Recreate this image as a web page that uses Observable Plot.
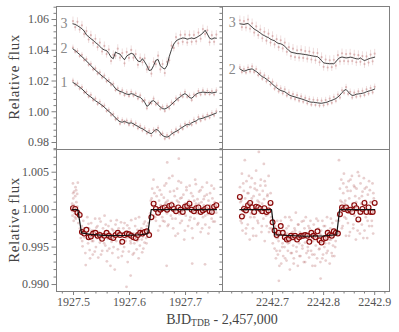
<!DOCTYPE html>
<html><head><meta charset="utf-8">
<script src="https://cdn.jsdelivr.net/npm/d3@7"></script>
<script src="https://cdn.jsdelivr.net/npm/@observablehq/plot@0.6"></script>
<style>
body{margin:0;background:#fff}
#fig{position:relative;width:399px;height:332px;font-family:"Liberation Serif","Times New Roman",serif;color:#555;overflow:hidden}
#fig svg{position:absolute;left:0;top:0;overflow:visible;background:transparent !important}
#fig svg text{font-family:"Liberation Serif","Times New Roman",serif}
.ylab{position:absolute;left:14px;transform:translate(-50%,-50%) rotate(-90deg);font-size:15px;letter-spacing:0.6px;white-space:nowrap;color:#444}
.xlab{position:absolute;left:222px;top:312px;transform:translateX(-50%);font-size:14px;white-space:nowrap;color:#444}
.xlab sub{font-size:9.5px;vertical-align:-2px}
</style></head><body><div id="fig"></div>
<script>
const tL = [1927.499,1927.503,1927.507,1927.511,1927.515,1927.519,1927.523,1927.527,1927.531,1927.535,1927.539,1927.543,1927.547,1927.551,1927.555,1927.559,1927.563,1927.567,1927.571,1927.575,1927.579,1927.583,1927.587,1927.591,1927.595,1927.599,1927.603,1927.607,1927.611,1927.615,1927.619,1927.623,1927.627,1927.631,1927.635,1927.639,1927.643,1927.647,1927.651,1927.655,1927.659,1927.663,1927.667,1927.671,1927.675,1927.679,1927.683,1927.687,1927.691,1927.695,1927.699,1927.703,1927.707,1927.711,1927.715,1927.719,1927.723,1927.727,1927.731,1927.735,1927.739,1927.743,1927.747,1927.751,1927.755];
const tR = [2242.636,2242.640,2242.644,2242.648,2242.652,2242.656,2242.660,2242.664,2242.668,2242.672,2242.676,2242.680,2242.684,2242.688,2242.692,2242.696,2242.700,2242.704,2242.708,2242.712,2242.716,2242.720,2242.724,2242.728,2242.732,2242.736,2242.740,2242.744,2242.748,2242.752,2242.756,2242.760,2242.764,2242.768,2242.772,2242.776,2242.780,2242.784,2242.788,2242.792,2242.796,2242.800,2242.804,2242.808,2242.812,2242.816,2242.820,2242.824,2242.828,2242.832,2242.836,2242.840,2242.844,2242.848,2242.852,2242.856,2242.860,2242.864,2242.868,2242.872,2242.876,2242.880,2242.884,2242.888,2242.892,2242.896,2242.900];
const lineL1 = [1.0190,1.0182,1.0170,1.0160,1.0148,1.0134,1.0118,1.0106,1.0096,1.0084,1.0072,1.0062,1.0052,1.0042,1.0030,1.0015,1.0002,0.9990,0.9975,0.9960,0.9945,0.9935,0.9932,0.9938,0.9930,0.9925,0.9928,0.9922,0.9912,0.9905,0.9895,0.9890,0.9880,0.9870,0.9862,0.9858,0.9870,0.9885,0.9880,0.9862,0.9845,0.9838,0.9835,0.9842,0.9855,0.9865,0.9872,0.9880,0.9892,0.9900,0.9910,0.9918,0.9915,0.9928,0.9935,0.9940,0.9952,0.9955,0.9958,0.9965,0.9968,0.9975,0.9980,0.9986,0.9992];
const rawL1 = [1.0202,1.0175,1.0184,1.0150,1.0160,1.0125,1.0130,1.0098,1.0110,1.0075,1.0085,1.0050,1.0065,1.0035,1.0040,1.0005,1.0012,0.9978,0.9985,0.9950,0.9958,0.9922,0.9945,0.9928,0.9942,0.9915,0.9938,0.9910,0.9925,0.9892,0.9908,0.9878,0.9893,0.9860,0.9875,0.9845,0.9882,0.9872,0.9895,0.9850,0.9858,0.9825,0.9848,0.9830,0.9868,0.9852,0.9885,0.9868,0.9905,0.9888,0.9922,0.9905,0.9928,0.9915,0.9948,0.9928,0.9965,0.9942,0.9970,0.9952,0.9980,0.9962,0.9992,0.9975,1.0003];
const lineL2 = [1.0409,1.0398,1.0385,1.0372,1.0358,1.0345,1.0330,1.0315,1.0300,1.0285,1.0270,1.0258,1.0245,1.0232,1.0222,1.0208,1.0195,1.0185,1.0170,1.0150,1.0140,1.0132,1.0128,1.0120,1.0115,1.0112,1.0118,1.0114,1.0105,1.0098,1.0094,1.0080,1.0062,1.0035,1.0045,1.0068,1.0072,1.0060,1.0045,1.0030,1.0020,1.0018,1.0025,1.0035,1.0048,1.0062,1.0075,1.0088,1.0098,1.0110,1.0118,1.0108,1.0092,1.0088,1.0100,1.0115,1.0122,1.0125,1.0128,1.0126,1.0124,1.0126,1.0122,1.0125,1.0128];
const rawL2 = [1.0418,1.0390,1.0395,1.0362,1.0370,1.0335,1.0342,1.0305,1.0312,1.0275,1.0282,1.0248,1.0256,1.0222,1.0235,1.0198,1.0206,1.0175,1.0182,1.0140,1.0152,1.0120,1.0140,1.0108,1.0128,1.0102,1.0130,1.0104,1.0118,1.0086,1.0106,1.0068,1.0075,1.0022,1.0058,1.0055,1.0085,1.0048,1.0058,1.0018,1.0032,1.0005,1.0038,1.0022,1.0060,1.0050,1.0088,1.0075,1.0110,1.0098,1.0130,1.0096,1.0105,1.0075,1.0112,1.0102,1.0135,1.0112,1.0140,1.0115,1.0136,1.0114,1.0134,1.0112,1.0140];
const lineL3 = [1.0572,1.0568,1.0560,1.0550,1.0540,1.0525,1.0500,1.0488,1.0475,1.0465,1.0450,1.0440,1.0425,1.0410,1.0402,1.0398,1.0380,1.0355,1.0345,1.0388,1.0380,1.0375,1.0355,1.0338,1.0362,1.0372,1.0380,1.0375,1.0350,1.0330,1.0325,1.0345,1.0325,1.0300,1.0268,1.0272,1.0300,1.0335,1.0340,1.0300,1.0285,1.0278,1.0300,1.0360,1.0405,1.0440,1.0460,1.0470,1.0475,1.0480,1.0478,1.0472,1.0476,1.0480,1.0475,1.0482,1.0490,1.0500,1.0512,1.0530,1.0505,1.0478,1.0472,1.0480,1.0478];
const rawL3 = [1.0590,1.0550,1.0585,1.0535,1.0562,1.0505,1.0525,1.0470,1.0498,1.0448,1.0475,1.0420,1.0450,1.0392,1.0428,1.0375,1.0405,1.0330,1.0370,1.0365,1.0410,1.0352,1.0382,1.0315,1.0388,1.0350,1.0402,1.0352,1.0375,1.0305,1.0350,1.0322,1.0348,1.0275,1.0290,1.0248,1.0325,1.0310,1.0365,1.0275,1.0310,1.0252,1.0325,1.0335,1.0430,1.0415,1.0485,1.0445,1.0500,1.0455,1.0502,1.0450,1.0500,1.0455,1.0500,1.0458,1.0515,1.0475,1.0538,1.0505,1.0530,1.0452,1.0498,1.0455,1.0502];
const errL = [0.0016, 0.0016, 0.0026];
const lineR2 = [1.0279,1.0270,1.0264,1.0268,1.0274,1.0276,1.0279,1.0270,1.0262,1.0252,1.0238,1.0228,1.0222,1.0212,1.0202,1.0192,1.0180,1.0166,1.0156,1.0146,1.0138,1.0134,1.0130,1.0120,1.0110,1.0104,1.0100,1.0096,1.0092,1.0088,1.0084,1.0080,1.0075,1.0070,1.0065,1.0062,1.0062,1.0060,1.0058,1.0056,1.0055,1.0058,1.0060,1.0064,1.0070,1.0074,1.0080,1.0086,1.0096,1.0108,1.0125,1.0138,1.0145,1.0130,1.0115,1.0106,1.0108,1.0114,1.0116,1.0118,1.0120,1.0124,1.0130,1.0134,1.0138,1.0142,1.0148];
const rawR2 = [1.0290,1.0258,1.0278,1.0255,1.0288,1.0262,1.0295,1.0258,1.0278,1.0238,1.0252,1.0215,1.0236,1.0198,1.0218,1.0178,1.0195,1.0150,1.0170,1.0132,1.0152,1.0120,1.0146,1.0105,1.0125,1.0090,1.0115,1.0082,1.0108,1.0072,1.0100,1.0065,1.0090,1.0055,1.0082,1.0046,1.0078,1.0044,1.0075,1.0040,1.0072,1.0042,1.0076,1.0050,1.0086,1.0058,1.0096,1.0070,1.0112,1.0092,1.0140,1.0122,1.0160,1.0115,1.0130,1.0092,1.0124,1.0098,1.0132,1.0102,1.0136,1.0108,1.0146,1.0118,1.0154,1.0126,1.0162];
const lineR3 = [1.0572,1.0570,1.0568,1.0572,1.0574,1.0562,1.0550,1.0538,1.0530,1.0522,1.0512,1.0502,1.0495,1.0488,1.0482,1.0472,1.0466,1.0462,1.0450,1.0444,1.0442,1.0436,1.0425,1.0412,1.0398,1.0388,1.0384,1.0382,1.0378,1.0378,1.0376,1.0374,1.0372,1.0370,1.0367,1.0365,1.0362,1.0360,1.0358,1.0348,1.0332,1.0318,1.0315,1.0314,1.0312,1.0313,1.0312,1.0325,1.0342,1.0352,1.0356,1.0353,1.0350,1.0352,1.0355,1.0353,1.0348,1.0345,1.0343,1.0350,1.0340,1.0333,1.0338,1.0344,1.0348,1.0352,1.0355];
const rawR3 = [1.0595,1.0550,1.0590,1.0548,1.0600,1.0540,1.0575,1.0515,1.0555,1.0498,1.0535,1.0478,1.0520,1.0462,1.0508,1.0450,1.0492,1.0438,1.0472,1.0420,1.0465,1.0412,1.0450,1.0390,1.0420,1.0362,1.0410,1.0355,1.0400,1.0352,1.0402,1.0350,1.0395,1.0345,1.0392,1.0340,1.0385,1.0335,1.0382,1.0322,1.0355,1.0292,1.0340,1.0288,1.0335,1.0290,1.0338,1.0300,1.0368,1.0328,1.0380,1.0330,1.0375,1.0328,1.0378,1.0330,1.0372,1.0322,1.0368,1.0325,1.0362,1.0310,1.0360,1.0320,1.0372,1.0328,1.0378];
const errR = [0.0018, 0.0028];
const labelsL = ["1", "2", "3"], labelXL = [1927.483, 1927.483, 1927.483], labelYL = [1.0190, 1.0411, 1.0572];
const labelsR = ["2", "3"], labelXR = [2242.621, 2242.621], labelYR = [1.0273, 1.0582];
const binsL = [1.0002,1.0001,0.9996,0.9993,0.9970,0.9968,0.9973,0.9963,0.9964,0.9968,0.9969,0.9965,0.9966,0.9961,0.9965,0.9969,0.9965,0.9963,0.9962,0.9966,0.9969,0.9966,0.9957,0.9966,0.9968,0.9967,0.9965,0.9963,0.9962,0.9966,0.9969,0.9968,0.9970,0.9971,0.9966,0.9990,1.0008,1.0001,0.9996,1.0000,1.0002,1.0003,1.0000,1.0005,1.0006,1.0001,0.9998,1.0003,1.0000,0.9997,1.0004,1.0005,1.0008,1.0000,0.9998,1.0002,1.0003,0.9997,0.9999,1.0001,1.0003,0.9998,0.9997,1.0004,1.0006];
const binsR = [1.0017,0.9991,1.0001,0.9999,1.0006,1.0009,1.0003,0.9997,1.0004,1.0003,1.0001,0.9998,1.0002,0.9997,0.9999,1.0009,0.9983,0.9972,0.9966,0.9969,0.9978,0.9969,0.9963,0.9960,0.9961,0.9965,0.9963,0.9965,0.9960,0.9963,0.9965,0.9965,0.9966,0.9965,0.9957,0.9969,0.9965,0.9963,0.9971,0.9959,0.9956,0.9961,0.9962,0.9969,0.9966,0.9965,0.9971,0.9969,0.9968,0.9994,1.0003,1.0001,1.0003,0.9999,1.0000,0.9997,1.0006,1.0002,0.9987,0.9997,1.0001,1.0009,0.9997,1.0003,0.9997,0.9997,1.0009];
const modelLt = [1927.4976, 1927.5077, 1927.5142, 1927.530, 1927.560, 1927.590, 1927.620, 1927.6326, 1927.6387, 1927.7553];
const modelLf = [1.0000, 1.0000, 0.99690, 0.99670, 0.99652, 0.99655, 0.99665, 0.99680, 1.0000, 1.0000];
const modelRt = [2242.636, 2242.698, 2242.704, 2242.730, 2242.765, 2242.800, 2242.8255, 2242.8314, 2242.900];
const modelRf = [1.0000, 1.0000, 0.99665, 0.99655, 0.99645, 0.99650, 0.99665, 1.0000, 1.0000];
const scatterL = [[1927.4975,1.0008],[1927.4982,0.9992],[1927.4990,1.0035],[1927.4996,1.0015],[1927.5003,0.9985],[1927.5010,1.0024],[1927.5016,1.0003],[1927.5022,0.9995],[1927.5030,1.0018],[1927.5036,1.0030],[1927.5042,0.9988],[1927.5050,1.0010],[1927.5058,0.9998],[1927.5065,1.0021],[1927.5072,0.9994],[1927.5077,1.0036],[1927.4979,0.9998],[1927.4993,1.0022],[1927.5006,1.0006],[1927.5026,0.9990],[1927.5046,1.0026],[1927.5068,1.0004],[1927.5085,0.9982],[1927.5100,0.9992],[1927.5115,0.9975],[1927.5130,0.9962],[1927.5148,0.9978],[1927.5162,0.9951],[1927.5175,0.9985],[1927.5190,0.9963],[1927.5205,0.9972],[1927.5218,0.9926],[1927.5232,0.9968],[1927.5246,0.9990],[1927.5260,0.9955],[1927.5275,0.9975],[1927.5288,0.9946],[1927.5302,0.9968],[1927.5316,0.9982],[1927.5330,0.9958],[1927.5344,0.9940],[1927.5358,0.9972],[1927.5372,0.9965],[1927.5386,0.9988],[1927.5400,0.9950],[1927.5414,0.9962],[1927.5428,0.9978],[1927.5442,0.9936],[1927.5456,0.9970],[1927.5470,0.9956],[1927.5484,0.9984],[1927.5498,0.9962],[1927.5512,0.9945],[1927.5526,0.9975],[1927.5540,0.9966],[1927.5554,0.9992],[1927.5568,0.9952],[1927.5582,0.9970],[1927.5596,0.9931],[1927.5610,0.9961],[1927.5624,0.9978],[1927.5638,0.9948],[1927.5652,0.9968],[1927.5666,0.9985],[1927.5680,0.9957],[1927.5694,0.9942],[1927.5708,0.9972],[1927.5722,0.9962],[1927.5736,0.9920],[1927.5750,0.9980],[1927.5764,0.9958],[1927.5778,0.9969],[1927.5792,0.9947],[1927.5806,0.9975],[1927.5820,0.9964],[1927.5834,0.9954],[1927.5848,0.9983],[1927.5862,0.9938],[1927.5876,0.9966],[1927.5890,0.9975],[1927.5904,0.9950],[1927.5918,0.9970],[1927.5932,0.9958],[1927.5946,0.9897],[1927.5960,0.9979],[1927.5974,0.9963],[1927.5988,0.9944],[1927.6002,0.9970],[1927.6016,0.9958],[1927.6020,0.9912],[1927.6030,0.9986],[1927.6044,0.9962],[1927.6058,0.9940],[1927.6072,0.9968],[1927.6086,0.9955],[1927.6100,0.9978],[1927.6114,0.9962],[1927.6128,0.9947],[1927.6142,0.9973],[1927.6156,0.9960],[1927.6170,0.9990],[1927.6184,0.9952],[1927.6198,0.9969],[1927.6212,0.9975],[1927.6226,0.9943],[1927.6240,0.9964],[1927.6254,0.9981],[1927.6268,0.9956],[1927.6282,0.9970],[1927.6296,0.9962],[1927.6310,0.9978],[1927.5155,0.9958],[1927.5183,0.9975],[1927.5211,0.9942],[1927.5239,0.9962],[1927.5267,0.9981],[1927.5295,0.9935],[1927.5323,0.9972],[1927.5351,0.9958],[1927.5379,0.9944],[1927.5407,0.9976],[1927.5435,0.9962],[1927.5463,0.9988],[1927.5491,0.9940],[1927.5519,0.9966],[1927.5547,0.9955],[1927.5575,0.9980],[1927.5603,0.9945],[1927.5631,0.9968],[1927.5659,0.9925],[1927.5687,0.9974],[1927.5715,0.9950],[1927.5743,0.9963],[1927.5771,0.9986],[1927.5799,0.9936],[1927.5827,0.9970],[1927.5855,0.9958],[1927.5883,0.9944],[1927.5911,0.9982],[1927.5939,0.9962],[1927.5967,0.9930],[1927.5995,0.9975],[1927.6023,0.9955],[1927.6051,0.9968],[1927.6079,0.9942],[1927.6107,0.9988],[1927.6135,0.9958],[1927.6163,0.9935],[1927.6191,0.9972],[1927.6219,0.9960],[1927.6247,0.9948],[1927.6275,0.9984],[1927.6303,0.9955],[1927.6335,0.9982],[1927.6350,0.9970],[1927.6368,0.9995],[1927.6380,1.0012],[1927.6395,1.0015],[1927.6405,1.0028],[1927.6418,1.0005],[1927.6430,0.9992],[1927.6444,1.0022],[1927.6458,1.0010],[1927.6472,0.9985],[1927.6486,1.0003],[1927.6500,1.0030],[1927.6514,0.9996],[1927.6528,1.0012],[1927.6542,0.9978],[1927.6556,1.0006],[1927.6570,1.0020],[1927.6584,0.9990],[1927.6598,1.0002],[1927.6612,1.0016],[1927.6626,0.9984],[1927.6640,1.0008],[1927.6654,1.0035],[1927.6663,0.9925],[1927.6668,0.9995],[1927.6673,1.0063],[1927.6682,1.0012],[1927.6696,0.9980],[1927.6710,1.0004],[1927.6724,1.0024],[1927.6738,0.9992],[1927.6752,1.0010],[1927.6766,1.0045],[1927.6780,0.9975],[1927.6794,1.0006],[1927.6808,1.0018],[1927.6822,0.9988],[1927.6836,1.0002],[1927.6850,1.0028],[1927.6864,0.9968],[1927.6878,1.0010],[1927.6880,1.0068],[1927.6892,0.9994],[1927.6906,1.0015],[1927.6920,1.0036],[1927.6934,0.9985],[1927.6948,1.0003],[1927.6962,1.0020],[1927.6976,0.9960],[1927.6990,1.0008],[1927.7004,0.9992],[1927.7018,1.0026],[1927.7032,1.0004],[1927.7046,0.9978],[1927.7060,1.0012],[1927.7074,1.0032],[1927.7088,0.9990],[1927.7102,1.0006],[1927.7116,0.9975],[1927.7119,0.9928],[1927.7130,1.0018],[1927.7144,1.0000],[1927.7158,0.9988],[1927.7172,1.0040],[1927.7186,1.0008],[1927.7200,0.9995],[1927.7214,1.0014],[1927.7228,0.9982],[1927.7242,1.0024],[1927.7256,1.0002],[1927.7270,0.9970],[1927.7284,1.0010],[1927.7298,1.0030],[1927.7312,0.9990],[1927.7326,1.0006],[1927.7340,1.0018],[1927.7348,0.9927],[1927.7354,0.9980],[1927.7368,1.0000],[1927.7382,1.0036],[1927.7396,0.9994],[1927.7410,1.0012],[1927.7424,0.9976],[1927.7438,1.0022],[1927.7452,1.0004],[1927.7466,0.9988],[1927.7480,1.0015],[1927.7494,1.0000],[1927.7508,1.0028],[1927.7522,0.9984],[1927.7536,1.0008],[1927.6400,1.0008],[1927.6428,1.0040],[1927.6456,0.9990],[1927.6484,1.0018],[1927.6512,0.9972],[1927.6540,1.0026],[1927.6568,1.0002],[1927.6596,0.9985],[1927.6624,1.0032],[1927.6652,1.0010],[1927.6680,0.9978],[1927.6708,1.0042],[1927.6736,1.0006],[1927.6764,0.9988],[1927.6792,1.0025],[1927.6820,0.9965],[1927.6848,1.0012],[1927.6876,1.0038],[1927.6904,0.9982],[1927.6932,1.0016],[1927.6960,1.0004],[1927.6988,0.9972],[1927.7016,1.0030],[1927.7044,1.0008],[1927.7072,0.9986],[1927.7100,1.0022],[1927.7128,0.9962],[1927.7156,1.0012],[1927.7184,1.0034],[1927.7212,0.9980],[1927.7240,1.0008],[1927.7268,1.0026],[1927.7296,0.9975],[1927.7324,1.0014],[1927.7352,0.9992],[1927.7380,1.0020],[1927.7408,0.9968],[1927.7436,1.0006],[1927.7464,1.0032],[1927.7492,0.9984],[1927.7520,1.0010],[1927.7548,0.9996]];
const scatterR = [[2242.6362,1.0030],[2242.6375,0.9985],[2242.6388,1.0012],[2242.6400,1.0048],[2242.6413,0.9972],[2242.6426,1.0005],[2242.6438,1.0025],[2242.6451,0.9992],[2242.6457,1.0066],[2242.6464,1.0015],[2242.6477,0.9968],[2242.6490,1.0038],[2242.6502,1.0002],[2242.6515,0.9980],[2242.6528,1.0022],[2242.6540,1.0008],[2242.6553,0.9960],[2242.6566,1.0030],[2242.6578,0.9995],[2242.6591,1.0042],[2242.6604,1.0010],[2242.6616,0.9975],[2242.6629,1.0018],[2242.6642,0.9990],[2242.6655,1.0035],[2242.6668,1.0004],[2242.6680,0.9965],[2242.6693,1.0026],[2242.6706,1.0012],[2242.6718,0.9982],[2242.6731,1.0077],[2242.6744,1.0020],[2242.6757,0.9996],[2242.6770,1.0040],[2242.6783,0.9970],[2242.6796,1.0008],[2242.6808,1.0025],[2242.6821,0.9988],[2242.6830,1.0061],[2242.6834,1.0014],[2242.6847,0.9958],[2242.6860,1.0032],[2242.6872,1.0000],[2242.6885,0.9978],[2242.6898,1.0018],[2242.6910,0.9994],[2242.6923,1.0045],[2242.6936,1.0006],[2242.6949,0.9975],[2242.6962,1.0022],[2242.6974,0.9990],[2242.6370,1.0010],[2242.6398,0.9982],[2242.6426,1.0035],[2242.6454,1.0002],[2242.6482,0.9975],[2242.6510,1.0022],[2242.6538,1.0045],[2242.6566,0.9990],[2242.6594,1.0015],[2242.6622,0.9965],[2242.6650,1.0028],[2242.6678,1.0052],[2242.6706,0.9985],[2242.6734,1.0010],[2242.6762,1.0032],[2242.6790,0.9978],[2242.6818,1.0004],[2242.6846,1.0038],[2242.6874,0.9992],[2242.6902,1.0020],[2242.6930,0.9970],[2242.6958,1.0008],[2242.6990,0.9975],[2242.7005,0.9955],[2242.7018,0.9985],[2242.7040,0.9948],[2242.7053,0.9970],[2242.7066,0.9935],[2242.7079,0.9962],[2242.7092,0.9985],[2242.7105,0.9940],[2242.7118,0.9958],[2242.7124,0.9905],[2242.7131,0.9975],[2242.7144,0.9945],[2242.7157,0.9968],[2242.7170,0.9928],[2242.7183,0.9980],[2242.7196,0.9955],[2242.7209,0.9938],[2242.7222,0.9972],[2242.7235,0.9950],[2242.7248,0.9990],[2242.7261,0.9960],[2242.7274,0.9932],[2242.7287,0.9968],[2242.7300,0.9945],[2242.7313,0.9978],[2242.7326,0.9956],[2242.7339,0.9920],[2242.7352,0.9964],[2242.7365,0.9986],[2242.7378,0.9942],[2242.7391,0.9970],[2242.7404,0.9952],[2242.7417,0.9935],[2242.7430,0.9975],[2242.7443,0.9960],[2242.7456,0.9996],[2242.7469,0.9944],[2242.7482,0.9966],[2242.7495,0.9925],[2242.7508,0.9980],[2242.7521,0.9955],[2242.7534,0.9970],[2242.7547,0.9938],[2242.7560,0.9962],[2242.7573,0.9984],[2242.7586,0.9948],[2242.7599,0.9968],[2242.7612,0.9930],[2242.7625,0.9975],[2242.7638,0.9956],[2242.7651,0.9990],[2242.7664,0.9942],[2242.7677,0.9965],[2242.7690,0.9950],[2242.7703,0.9978],[2242.7716,0.9936],[2242.7729,0.9960],[2242.7742,0.9985],[2242.7755,0.9945],[2242.7768,0.9970],[2242.7781,0.9925],[2242.7794,0.9958],[2242.7807,0.9980],[2242.7820,0.9940],[2242.7833,0.9966],[2242.7846,0.9952],[2242.7859,0.9988],[2242.7872,0.9935],[2242.7885,0.9962],[2242.7898,0.9975],[2242.7911,0.9947],[2242.7924,0.9968],[2242.7937,0.9930],[2242.7941,0.9908],[2242.7950,0.9972],[2242.7963,0.9955],[2242.7976,0.9985],[2242.7989,0.9940],[2242.8002,0.9963],[2242.8015,0.9950],[2242.8028,0.9978],[2242.8041,0.9932],[2242.8054,0.9966],[2242.8067,0.9990],[2242.8080,0.9945],[2242.8093,0.9970],[2242.8106,0.9955],[2242.8119,0.9928],[2242.8132,0.9975],[2242.8145,0.9960],[2242.8158,0.9942],[2242.8171,0.9982],[2242.8184,0.9952],[2242.8197,0.9968],[2242.8210,0.9938],[2242.8223,0.9972],[2242.8236,0.9958],[2242.8249,0.9985],[2242.7050,0.9978],[2242.7078,0.9945],[2242.7106,0.9962],[2242.7134,0.9925],[2242.7162,0.9985],[2242.7190,0.9950],[2242.7218,0.9968],[2242.7246,0.9935],[2242.7274,0.9975],[2242.7302,0.9955],[2242.7330,0.9990],[2242.7358,0.9942],[2242.7386,0.9962],[2242.7414,0.9928],[2242.7442,0.9972],[2242.7470,0.9950],[2242.7498,0.9980],[2242.7526,0.9938],[2242.7554,0.9965],[2242.7582,0.9952],[2242.7610,0.9985],[2242.7638,0.9930],[2242.7666,0.9968],[2242.7694,0.9945],[2242.7722,0.9975],[2242.7750,0.9958],[2242.7778,0.9940],[2242.7806,0.9970],[2242.7834,0.9925],[2242.7862,0.9962],[2242.7890,0.9985],[2242.7918,0.9948],[2242.7946,0.9966],[2242.7974,0.9935],[2242.8002,0.9978],[2242.8030,0.9955],[2242.8058,0.9942],[2242.8086,0.9972],[2242.8114,0.9960],[2242.8142,0.9988],[2242.8170,0.9938],[2242.8198,0.9965],[2242.8226,0.9950],[2242.8265,0.9970],[2242.8280,0.9992],[2242.8300,0.9985],[2242.8301,1.0066],[2242.8320,1.0028],[2242.8333,0.9995],[2242.8346,1.0040],[2242.8359,1.0010],[2242.8372,0.9978],[2242.8385,1.0022],[2242.8398,1.0048],[2242.8411,0.9990],[2242.8424,1.0012],[2242.8437,0.9965],[2242.8450,1.0030],[2242.8463,1.0005],[2242.8476,0.9982],[2242.8489,1.0038],[2242.8502,1.0015],[2242.8515,0.9970],[2242.8528,1.0025],[2242.8541,0.9998],[2242.8554,1.0045],[2242.8567,1.0008],[2242.8580,0.9975],[2242.8593,1.0032],[2242.8606,0.9992],[2242.8619,1.0018],[2242.8632,0.9960],[2242.8645,1.0028],[2242.8658,1.0002],[2242.8671,1.0050],[2242.8684,0.9985],[2242.8697,1.0015],[2242.8710,0.9968],[2242.8723,1.0035],[2242.8736,1.0008],[2242.8749,0.9980],[2242.8762,1.0024],[2242.8775,0.9995],[2242.8788,1.0042],[2242.8801,0.9972],[2242.8814,1.0012],[2242.8827,0.9990],[2242.8840,1.0030],[2242.8853,0.9962],[2242.8866,1.0020],[2242.8879,1.0000],[2242.8892,0.9978],[2242.8905,1.0026],[2242.8918,0.9995],[2242.8931,1.0010],[2242.8944,0.9985],[2242.8957,1.0035],[2242.8970,0.9968],[2242.8983,1.0015],[2242.8996,0.9998],[2242.8330,1.0012],[2242.8358,0.9975],[2242.8386,1.0035],[2242.8414,1.0008],[2242.8442,0.9988],[2242.8470,1.0025],[2242.8498,0.9965],[2242.8526,1.0040],[2242.8554,1.0002],[2242.8582,0.9980],[2242.8610,1.0030],[2242.8638,1.0010],[2242.8666,0.9972],[2242.8694,1.0045],[2242.8722,0.9995],[2242.8750,1.0018],[2242.8778,0.9962],[2242.8806,1.0028],[2242.8834,1.0004],[2242.8862,0.9985],[2242.8890,1.0038],[2242.8918,1.0010],[2242.8946,0.9978],[2242.8974,1.0022]];
const yTopMajor = [0.98, 1.00, 1.02, 1.04, 1.06];
const yTopMinor = [0.976,0.984,0.988,0.992,0.996,1.004,1.008,1.012,1.016,1.024,1.028,1.032,1.036,1.044,1.048,1.052,1.056,1.064,1.068];
const yBotMajor = [0.990, 0.995, 1.000, 1.005];
const yBotMinor = [0.991,0.992,0.993,0.994,0.996,0.997,0.998,0.999,1.001,1.002,1.003,1.004,1.006,1.007,1.008];
const xMajorL = [1927.5, 1927.6, 1927.7];
const xMinorL = [1927.48,1927.52,1927.54,1927.56,1927.58,1927.62,1927.64,1927.66,1927.68,1927.72,1927.74,1927.76];
const xMajorR = [2242.7, 2242.8, 2242.9];
const xMinorR = [2242.62,2242.64,2242.66,2242.68,2242.72,2242.74,2242.76,2242.78,2242.82,2242.84,2242.86,2242.88,2242.92];

const X0 = 56, XM = 222, X1 = 389, Y0 = 6, YM = 149, Y1 = 291;
const xDomL = [1927.4696, 1927.766], xDomR = [2242.602, 2242.929];
const yDomTop = [0.97545, 1.06846], yDomBot = [0.98907, 1.00803];
const AX = "#808080", TXT = "#555", PINK = "#b86a6a", DARK = "#8b0a0a";
const FONT = "Liberation Serif, Times New Roman, serif";
const none = () => "";
function rows(t, line, raw, c, err) { return t.map((x, i) => ({t: x, f: line[i], r: raw[i], c, e: err})); }
function panel(box, xd, yd, marks) {
  return Plot.plot({
    width: 399, height: 332,
    marginLeft: box[0], marginRight: 399 - box[1], marginTop: box[2], marginBottom: 332 - box[3],
    x: {domain: xd, axis: null}, y: {domain: yd, axis: null},
    style: {fontFamily: FONT, fontSize: "12px", color: TXT, background: "transparent"},
    marks
  });
}
function yAxes(major, minor, labels, fmt) {
  return [
    Plot.axisY(major, {anchor: "left", tickSize: labels ? 4.5 : 3, tickPadding: 3, stroke: AX, fill: TXT, tickFormat: labels ? d3.format(fmt) : none}),
    Plot.axisY(minor, {anchor: "left", tickSize: 2.5, stroke: AX, tickFormat: none})
  ];
}
function xAxes(major, minor) {
  return [
    Plot.axisX(major, {anchor: "bottom", tickSize: 4, tickPadding: 2, stroke: AX, fill: TXT, tickFormat: d3.format(".1f")}),
    Plot.axisX(minor, {anchor: "bottom", tickSize: 2.5, stroke: AX, tickFormat: none})
  ];
}
const dataTL = [...rows(tL, lineL1, rawL1, "1", errL[0]), ...rows(tL, lineL2, rawL2, "2", errL[1]), ...rows(tL, lineL3, rawL3, "3", errL[2])];
const dataTR = [...rows(tR, lineR2, rawR2, "2", errR[0]), ...rows(tR, lineR3, rawR3, "3", errR[1])];
function topMarks(data, lx, ly, lt) {
  return [
    Plot.ruleX(data, {x: "t", y1: d => d.r - d.e, y2: d => d.r + d.e, stroke: PINK, strokeOpacity: 0.22, strokeWidth: 1}),
    Plot.dot(data, {x: "t", y: "r", r: 1.1, fill: PINK, fillOpacity: 0.4}),
    Plot.line(data, {x: "t", y: "f", z: "c", stroke: "#2a2a2a", strokeWidth: 0.9}),
    Plot.text(lt, {x: lx, y: ly, text: d => d, fill: "#888", fontSize: 14})
  ];
}
function botMarks(scatter, t, bins, mt, mf) {
  return [
    Plot.dot(scatter, {x: d => d[0], y: d => d[1], r: 1.4, fill: PINK, fillOpacity: 0.32}),
    Plot.dot(bins, {x: t, y: d => d, r: 2.4, stroke: DARK, strokeWidth: 1.2, fill: "#fbeaea", fillOpacity: 0.7}),
    Plot.line(mf, {x: mt, y: d => d, stroke: "#111", strokeWidth: 1.2})
  ];
}
const fig = document.getElementById("fig");
fig.append(
  panel([X0, XM, Y0, YM], xDomL, yDomTop, [...topMarks(dataTL, labelXL, labelYL, labelsL), ...yAxes(yTopMajor, yTopMinor, true, ".2f"), Plot.frame({stroke: AX})]),
  panel([XM, X1, Y0, YM], xDomR, yDomTop, [...topMarks(dataTR, labelXR, labelYR, labelsR), ...yAxes(yTopMajor, yTopMinor, false), Plot.frame({stroke: AX})]),
  panel([X0, XM, YM, Y1], xDomL, yDomBot, [...botMarks(scatterL, tL, binsL, modelLt, modelLf), ...yAxes(yBotMajor, yBotMinor, true, ".3f"), ...xAxes(xMajorL, xMinorL), Plot.frame({stroke: AX})]),
  panel([XM, X1, YM, Y1], xDomR, yDomBot, [...botMarks(scatterR, tR, binsR, modelRt, modelRf), ...yAxes(yBotMajor, yBotMinor, false), ...xAxes(xMajorR, xMinorR), Plot.frame({stroke: AX})])
);
const yl1 = document.createElement("div"); yl1.className = "ylab"; yl1.style.top = "77px"; yl1.textContent = "Relative flux";
const yl2 = document.createElement("div"); yl2.className = "ylab"; yl2.style.top = "220px"; yl2.textContent = "Relative flux";
const xl = document.createElement("div"); xl.className = "xlab"; xl.innerHTML = "BJD<sub>TDB</sub> - 2,457,000";
fig.append(yl1, yl2, xl);
</script>
</body></html>
